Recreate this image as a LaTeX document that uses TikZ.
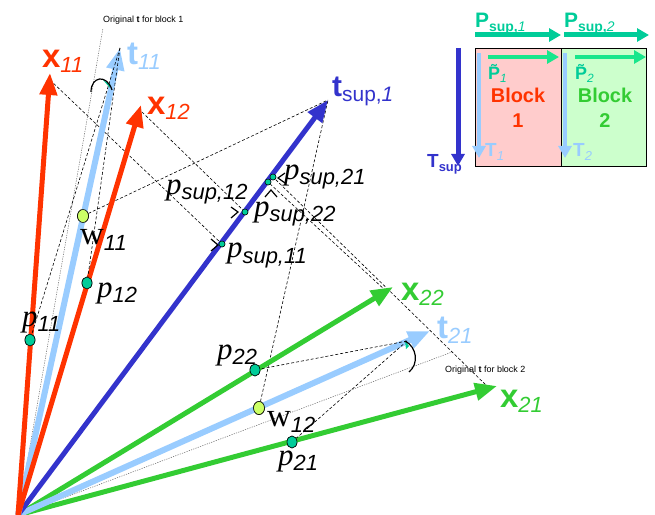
\documentclass[tikz,border=0pt]{standalone}
\usepackage{fontspec}
\setmainfont{Liberation Sans}
\newfontfamily\serifrm{Liberation Serif}
\usetikzlibrary{arrows.meta,shapes.geometric}
\definecolor{cred}{HTML}{FF3300}
\definecolor{clblue}{HTML}{99CCFF}
\definecolor{cdblue}{HTML}{3333CC}
\definecolor{cgreen}{HTML}{33CC33}
\definecolor{cteal}{HTML}{00CC99}
\definecolor{cmint}{HTML}{19E68C}
\definecolor{cpink}{HTML}{FFCCCC}
\definecolor{cpale}{HTML}{CCFFCC}
\definecolor{cyell}{HTML}{CCFF66}
\newcommand\myfs[1]{\fontsize{#1}{#1}\selectfont}
\newcommand\veclab[2]{{\myfs{33}\bfseries #1}\raisebox{-5bp}{\myfs{22}\itshape #2}}
\newcommand\plab[1]{{\serifrm\itshape\myfs{31}p}\raisebox{-5bp}{\myfs{22}\itshape #1}}
\newcommand\wlab[1]{{\serifrm\myfs{33}w}\raisebox{-6bp}{\myfs{22}\itshape #1}}
\tikzset{
  vecarrow/.style={line width=5bp,-{Triangle[length=22bp,width=17bp]}},
  projline/.style={black,line width=0.6bp,dash pattern=on 3bp off 2bp},
  origline/.style={black!60,line width=0.5bp,dash pattern=on 1.2bp off 1.2bp},
  pdot/.style={ellipse,draw=black,line width=0.6bp,fill=cteal,minimum width=10bp,minimum height=12bp,inner sep=0},
  wdot/.style={ellipse,draw=black,line width=0.6bp,fill=cyell,minimum width=11bp,minimum height=13bp,inner sep=0},
  sdot/.style={circle,draw=black,line width=0.5bp,fill=cteal,minimum size=6bp,inner sep=0},
  lab/.style={inner sep=0,anchor=base west},
  rmark/.style={line width=1.2bp,black},
  blkarrow/.style={-{Triangle[length=12bp,width=13bp]}}
}
\begin{document}
\begin{tikzpicture}[x=1bp,y=-1bp]
\useasboundingbox (0,0) rectangle (655,515);
% key points
\coordinate (O) at (18,515);
\coordinate (x11) at (50,73);
\coordinate (x12) at (141,105);
\coordinate (t11) at (120,48);
\coordinate (ts) at (328,100);
\coordinate (x22) at (393,287);
\coordinate (t21) at (430,331);
\coordinate (x21) at (497,386);
\coordinate (t21c) at (407,341);
\coordinate (o1) at (103,28);
\coordinate (o2) at (452,352);
\coordinate (x11s) at (50,80);
\coordinate (x12s) at (142,112);
\coordinate (x22s) at (386,291);
\coordinate (x21s) at (489,388);
% dots
\node[pdot] (p11) at (30,340) {};
\node[pdot] (p12) at (87,283) {};
\node[pdot] (p22) at (255,370) {};
\node[pdot] (p21) at (292,442) {};
\node[wdot] (w11) at (83,216) {};
\node[wdot] (w12) at (259,408) {};
\node[sdot] (ps11) at (222,244) {};
\node[sdot] (ps12) at (245,212) {};
\node[sdot] (ps22) at (268,182) {};
\node[sdot] (ps21) at (273,177) {};
% original t lines
\draw[origline] (O) -- (o1);
\draw[origline] (O) -- (o2);
% projection lines
\draw[projline] (x11s) -- (ps11);
\draw[projline] (x12s) -- (ps12);
\draw[projline] (x22s) -- (ps22);
\draw[projline] (x21s) -- (ps21);
\draw[projline] (w11) -- (ts);
\draw[projline] (w12) -- (ts);
% vectors
\draw[vecarrow,cgreen] (O) -- (x21);
\draw[vecarrow,cgreen] (O) -- (x22);
\draw[vecarrow,clblue,line width=6bp] (O) -- (t21);
\draw[vecarrow,cdblue] (O) -- (ts);
\draw[vecarrow,clblue,line width=6bp] (O) -- (t11);
\draw[vecarrow,cred] (O) -- (x11);
\draw[vecarrow,cred] (O) -- (x12);
% lines from t tips
\draw[projline] (t11) -- (p11);
\draw[projline] (t11) -- (p12);
\draw[projline] (t21c) -- (p22);
\draw[projline] (t21c) -- (p21);
% dots on top
\node[pdot] at (p11) {};
\node[pdot] at (p12) {};
\node[pdot] at (p22) {};
\node[pdot] at (p21) {};
\node[wdot] at (w11) {};
\node[wdot] at (w12) {};
\node[sdot] at (ps11) {};
\node[sdot] at (ps12) {};
\node[sdot] at (ps22) {};
\node[sdot] at (ps21) {};
% right angle marks
\draw[rmark] (211,239) -- (218,245) -- (211,251);
\draw[rmark] (231,207) -- (238,212) -- (231,218);
\draw[rmark] (285,173) -- (278,178) -- (285,183);
\draw[rmark] (265,197) -- (271,190) -- (277,197);
% angle arcs
\fill[cteal] (103,80) -- (110,84) -- (110,88) -- cycle;
\draw[line width=1.2bp] (91,92) .. controls (91,76) and (107,74) .. (112,90);
\fill[cteal] (405,341) -- (409,346) -- (406,349) -- cycle;
\draw[line width=1.2bp] (405,341) .. controls (417,347) and (419,364) .. (409,372);
% vector labels
\node[lab,cred] (lx11) at (42,68) {\veclab{x}{11}};
\node[lab,clblue] (lt11) at (127,65) {\veclab{t}{11}};
\node[lab,cred] (lx12) at (147,115) {\veclab{x}{12}};
\node[lab,cdblue] (lts) at (332,97) {{\myfs{30}\bfseries t}\raisebox{-5bp}{\myfs{21}sup,\textit{1}}};
\node[lab,cgreen] (lx22) at (401,300) {\veclab{x}{22}};
\node[lab,clblue] (lt21) at (437,338) {\veclab{t}{21}};
\node[lab,cgreen] (lx21) at (500,407) {\veclab{x}{21}};
% point labels
\node[lab] (lp11) at (22,326) {\plab{11}};
\node[lab] (lp12) at (97,297) {\plab{12}};
\node[lab] (lp22) at (217,359) {\plab{22}};
\node[lab] (lp21) at (278,465) {\plab{21}};
\node[lab] (lw11) at (80,245) {\wlab{11}};
\node[lab] (lw12) at (267,426) {\wlab{12}};
\node[lab] (lps12) at (166,195) {\plab{sup,12}};
\node[lab] (lps11) at (227,258) {\plab{sup,11}};
\node[lab] (lps22) at (254,217) {\plab{sup,22}};
\node[lab] (lps21) at (284,180) {\plab{sup,21}};
% original t texts
\node[lab] (lo1) at (103,23) {\myfs{9}Original \textbf{t} for block 1};
\node[lab] (lo2) at (445,372) {\myfs{9}Original \textbf{t} for block 2};
% block diagram
\draw[line width=0.8bp,fill=cpink] (475,48) rectangle (561,166);
\draw[line width=0.8bp,fill=cpale] (561,48) rectangle (646,166);
\draw[blkarrow,cteal,line width=5bp] (475,35) -- (561,35);
\draw[blkarrow,cteal,line width=5bp] (564,35) -- (649,35);
\draw[blkarrow,cmint,line width=4bp] (488,57) -- (559,57);
\draw[blkarrow,cmint,line width=4bp] (575,57) -- (646,57);
\draw[blkarrow,clblue,line width=4bp] (479,53) -- (479,158);
\draw[blkarrow,clblue,line width=4bp] (565,53) -- (565,158);
\draw[blkarrow,cdblue,line width=5bp] (458,48) -- (458,166);
\node[lab,cteal] (lP1) at (475,28) {{\myfs{21}\bfseries P}\raisebox{-4bp}{\myfs{14}\bfseries sup,\mdseries\itshape 1}};
\node[lab,cteal] (lP2) at (564,28) {{\myfs{21}\bfseries P}\raisebox{-4bp}{\myfs{14}\bfseries sup,\mdseries\itshape 2}};
\node[lab,cteal] (lPt1) at (488,80) {{\myfs{18}\bfseries\~{P}}\raisebox{-3bp}{\myfs{12}\itshape 1}};
\node[lab,cteal] (lPt2) at (575,80) {{\myfs{18}\bfseries\~{P}}\raisebox{-3bp}{\myfs{12}\itshape 2}};
\node[lab,clblue] (lT1) at (485,157) {{\myfs{19}\bfseries T}\raisebox{-4bp}{\myfs{13}\itshape 1}};
\node[lab,clblue] (lT2) at (573,157) {{\myfs{19}\bfseries T}\raisebox{-4bp}{\myfs{13}\itshape 2}};
\node[lab,cdblue] (lTs) at (427,168) {{\myfs{19}\bfseries T}\raisebox{-4bp}{\myfs{13}\bfseries sup}};
\node[cred,font=\myfs{20}\bfseries,align=center,inner sep=0] (b1) at (518,108) {Block\\[5bp]1};
\node[cgreen,font=\myfs{20}\bfseries,align=center,inner sep=0] (b2) at (605,108) {Block\\[5bp]2};
\end{tikzpicture}
\end{document}
